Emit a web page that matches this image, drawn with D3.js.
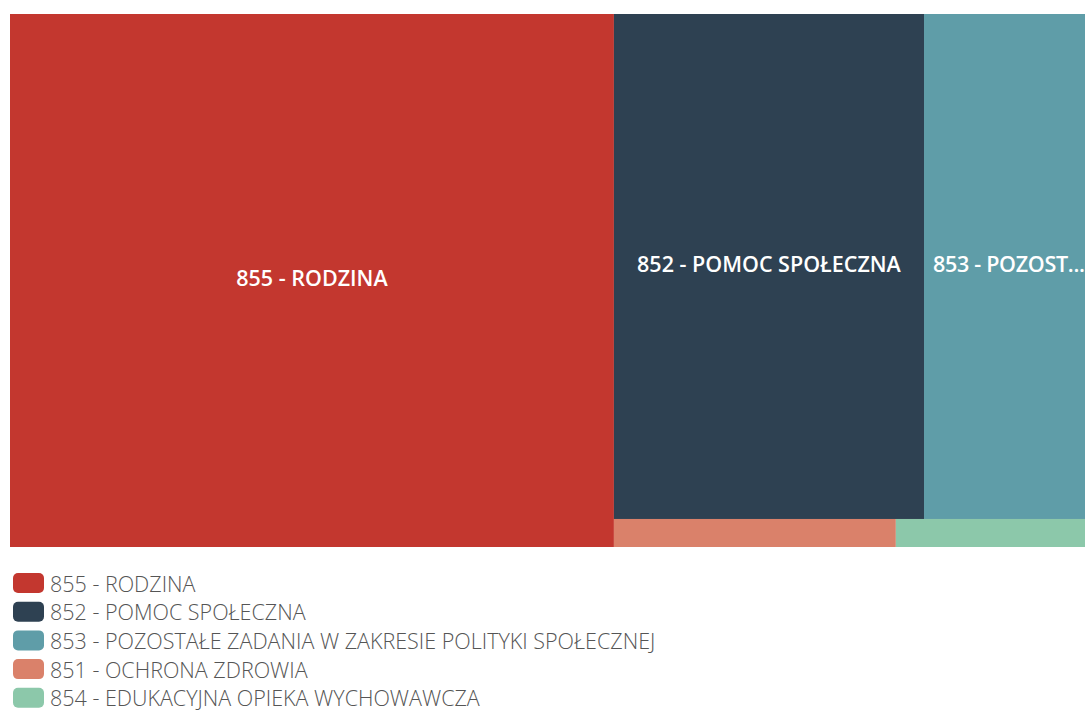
<!DOCTYPE html>
<html>
<head>
<meta charset="utf-8">
<script src="https://cdn.jsdelivr.net/npm/d3@7"></script>
<style>
  html, body { margin: 0; padding: 0; background: #fff; }
  svg { display: block; }
</style>
</head>
<body>
<svg id="chart" width="1085" height="727"></svg>
<script>
const categories = [
  "855 - RODZINA",
  "852 - POMOC SPOŁECZNA",
  "853 - POZOSTAŁE ZADANIA W ZAKRESIE POLITYKI SPOŁECZNEJ",
  "851 - OCHRONA ZDROWIA",
  "854 - EDUKACYJNA OPIEKA WYCHOWAWCZA"
];
const values = [321.9, 156.6, 81.3, 7.9, 5.3];
const colors = ["#C3372F", "#2E4152", "#5F9DA8", "#DA816A", "#8CC8AA"];

const svg = d3.select("#chart");
const fontFamily = "'Open Sans', 'Noto Sans', sans-serif";

const tm = { x0: 10, y0: 14, x1: 1085, y1: 547 };

const root = d3.hierarchy({ children: categories.map((c, i) => ({ name: c, value: values[i], color: colors[i] })) })
  .sum(d => d.value || 0)
  .sort((a, b) => b.value - a.value);

d3.treemap()
  .tile(d3.treemapSquarify)
  .size([tm.x1 - tm.x0, tm.y1 - tm.y0])
  .paddingInner(0)(root);

const g = svg.append("g").attr("transform", `translate(${tm.x0},${tm.y0})`);

const cells = g.selectAll("g.cell").data(root.leaves()).join("g")
  .attr("class", "cell")
  .attr("transform", d => `translate(${d.x0},${d.y0})`);

cells.append("rect")
  .attr("width", d => d.x1 - d.x0)
  .attr("height", d => d.y1 - d.y0)
  .attr("fill", d => d.data.color);

cells.each(function(d) {
  const w = d.x1 - d.x0, h = d.y1 - d.y0;
  if (h < 30) return;
  const t = d3.select(this).append("text")
    .attr("x", w / 2)
    .attr("y", h / 2 - 3)
    .attr("text-anchor", "middle")
    .attr("dominant-baseline", "central")
    .attr("fill", "#ffffff")
    .attr("font-family", fontFamily)
    .attr("font-size", 21.5)
    .attr("font-weight", 600)
    .text(d.data.name);
  const maxW = w - 9;
  let s = d.data.name;
  if (t.node().getComputedTextLength() > maxW) {
    t.attr("letter-spacing", -0.3);
    while (s.length > 1) {
      s = s.slice(0, -1);
      t.text(s + "...");
      if (t.node().getComputedTextLength() <= maxW) break;
    }
    t.attr("text-anchor", "start").attr("x", 9);
  }
});

// Legend
const legend = svg.append("g").attr("transform", "translate(13,573)");
const rowH = 28.7;
const items = legend.selectAll("g").data(categories).join("g")
  .attr("transform", (d, i) => `translate(0,${i * rowH})`);
items.append("rect")
  .attr("width", 31).attr("height", 20).attr("rx", 5).attr("ry", 5)
  .attr("fill", (d, i) => colors[i]);
items.append("text")
  .attr("x", 37).attr("y", 10)
  .attr("dominant-baseline", "central")
  .attr("font-family", fontFamily)
  .attr("font-size", 21.5)
  .attr("font-weight", 300)
  .attr("fill", "#555555")
  .text(d => d);
</script>
</body>
</html>
